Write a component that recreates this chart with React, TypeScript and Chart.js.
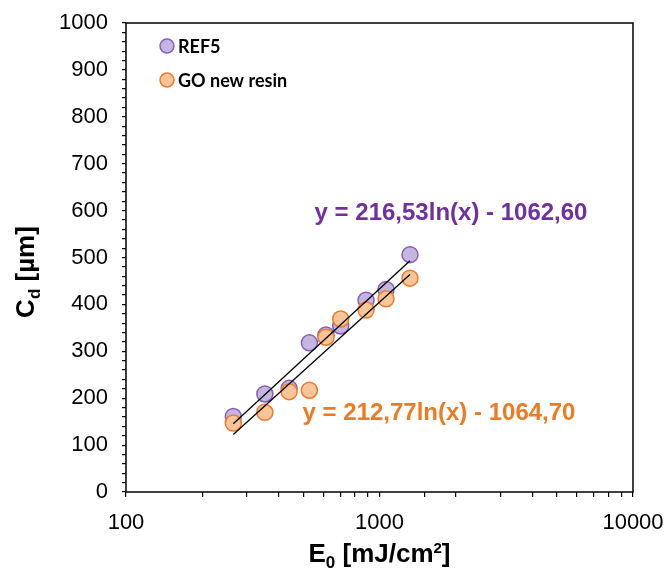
import React, { useEffect, useRef } from "react";
import { Chart, registerables } from "chart.js";

Chart.register(...registerables);

// Exposure dose E0 [mJ/cm²] for each sample
const exposures = [265, 353, 440, 529, 615, 703, 885, 1061, 1319];
// Cure depth Cd [µm]
const ref5Depths = [161, 209, 221, 318, 335, 354, 409, 432, 506];
const goDepths = [147, 170, 214, 217, 330, 369, 388, 412, 456];

// Logarithmic fits: y = slope * ln(x) + intercept
const ref5Slope = 216.53;
const ref5Intercept = -1062.6;
const goSlope = 212.77;
const goIntercept = -1064.7;

const seriesNames = ["REF5", "GO new resin"];
const yTicks = [0, 100, 200, 300, 400, 500, 600, 700, 800, 900, 1000];
const xTicks = [100, 1000, 10000];

const PURPLE_FILL = "#C4B6E0";
const PURPLE_EDGE = "#8660B6";
const PURPLE_TEXT = "#7030A0";
const ORANGE_FILL = "#F9C497";
const ORANGE_EDGE = "#EE7B2A";
const ORANGE_TEXT = "#EE7A22";

const fmt = (v: number) => Math.abs(v).toFixed(2).replace(".", ",");
const eqLabel = (a: number, b: number) =>
  `y = ${fmt(a)}ln(x) ${b < 0 ? "-" : "+"} ${fmt(b)}`;

const fitLine = (a: number, b: number) => {
  const x0 = exposures[0];
  const x1 = exposures[exposures.length - 1];
  return [
    { x: x0, y: a * Math.log(x0) + b },
    { x: x1, y: a * Math.log(x1) + b },
  ];
};

type Part = { text: string; font: string; dy: number };

function drawRich(ctx: CanvasRenderingContext2D, parts: Part[], cx: number, baseY: number) {
  let total = 0;
  for (const p of parts) {
    ctx.font = p.font;
    total += ctx.measureText(p.text).width;
  }
  let x = cx - total / 2;
  ctx.textAlign = "left";
  ctx.textBaseline = "alphabetic";
  for (const p of parts) {
    ctx.font = p.font;
    ctx.fillText(p.text, x, baseY + p.dy);
    x += ctx.measureText(p.text).width;
  }
}

const overlay = {
  id: "overlay",
  afterDatasetsDraw(chart: any) {
    const { ctx, chartArea: ca, scales } = chart;
    const xs = scales.x;
    const ys = scales.y;
    ctx.save();

    // plot frame
    ctx.strokeStyle = "#000";
    ctx.lineWidth = 1.5;
    ctx.strokeRect(ca.left, ca.top, ca.right - ca.left, ca.bottom - ca.top);

    // fit equations
    ctx.textAlign = "center";
    ctx.textBaseline = "middle";
    ctx.font = "bold 24px 'Liberation Sans', Arial, sans-serif";
    ctx.fillStyle = PURPLE_TEXT;
    ctx.fillText(eqLabel(ref5Slope, ref5Intercept), xs.getPixelForValue(1915), ys.getPixelForValue(595));
    ctx.fillStyle = ORANGE_TEXT;
    ctx.fillText(eqLabel(goSlope, goIntercept), xs.getPixelForValue(1717), ys.getPixelForValue(168));

    // legend
    const legend = [
      { name: seriesNames[0], fill: PURPLE_FILL, edge: PURPLE_EDGE },
      { name: seriesNames[1], fill: ORANGE_FILL, edge: ORANGE_EDGE },
    ];
    legend.forEach((item, i) => {
      const cx = ca.left + 41;
      const cy = ca.top + 23 + i * 34;
      ctx.beginPath();
      ctx.arc(cx, cy, 7, 0, Math.PI * 2);
      ctx.fillStyle = item.fill;
      ctx.fill();
      ctx.lineWidth = 1.5;
      ctx.strokeStyle = item.edge;
      ctx.stroke();
      ctx.fillStyle = "#000";
      ctx.font = "bold 18px Lato, 'Open Sans', sans-serif";
      ctx.textAlign = "left";
      ctx.textBaseline = "middle";
      ctx.fillText(item.name, cx + 11, cy + 1);
    });

    // axis titles
    ctx.fillStyle = "#000";
    const big = "bold 26px 'Liberation Sans', Arial, sans-serif";
    const small = "bold 17px 'Liberation Sans', Arial, sans-serif";
    const sup = "bold 15px 'Liberation Sans', Arial, sans-serif";
    drawRich(
      ctx,
      [
        { text: "E", font: big, dy: 0 },
        { text: "0", font: small, dy: 6 },
        { text: " [mJ/cm", font: big, dy: 0 },
        { text: "2", font: sup, dy: -9 },
        { text: "]", font: big, dy: 0 },
      ],
      (ca.left + ca.right) / 2,
      562
    );
    ctx.translate(34, 272);
    ctx.rotate(-Math.PI / 2);
    drawRich(
      ctx,
      [
        { text: "C", font: big, dy: 0 },
        { text: "d", font: small, dy: 6 },
        { text: " [µm]", font: big, dy: 0 },
      ],
      0,
      0
    );
    ctx.restore();
  },
};

export default function App() {
  const ref = useRef<HTMLCanvasElement | null>(null);

  useEffect(() => {
    if (!ref.current) return;
    const tickFont = { family: "'Liberation Sans', Arial, sans-serif", size: 22 };
    const chart = new Chart(ref.current, {
      type: "scatter",
      data: {
        datasets: [
          {
            label: "REF5 fit",
            data: fitLine(ref5Slope, ref5Intercept),
            showLine: true,
            borderColor: "#000",
            borderWidth: 1.3,
            pointRadius: 0,
            order: 0,
          },
          {
            label: "GO fit",
            data: fitLine(goSlope, goIntercept),
            showLine: true,
            borderColor: "#000",
            borderWidth: 1.3,
            pointRadius: 0,
            order: 0,
          },
          {
            label: seriesNames[1],
            data: exposures.map((x, i) => ({ x, y: goDepths[i] })),
            backgroundColor: ORANGE_FILL,
            borderColor: ORANGE_EDGE,
            borderWidth: 1.5,
            pointRadius: 8,
            order: 1,
          },
          {
            label: seriesNames[0],
            data: exposures.map((x, i) => ({ x, y: ref5Depths[i] })),
            backgroundColor: PURPLE_FILL,
            borderColor: PURPLE_EDGE,
            borderWidth: 1.5,
            pointRadius: 8,
            order: 2,
          },
        ],
      },
      options: {
        animation: false,
        responsive: true,
        maintainAspectRatio: false,
        layout: { padding: { top: 23, right: 34, left: 0, bottom: 0 } },
        plugins: { legend: { display: false }, tooltip: { enabled: false } },
        scales: {
          x: {
            type: "logarithmic",
            min: 100,
            max: 10000,
            border: { display: false },
            grid: { drawOnChartArea: false, drawTicks: true, tickLength: 5, color: "#000", lineWidth: 1.2 },
            ticks: {
              autoSkip: false,
              maxRotation: 0,
              padding: 13,
              color: "#000",
              font: tickFont,
              callback: (v: any) => (xTicks.includes(Number(v)) ? String(v) : ""),
            },
            afterFit: (s: any) => {
              s.height = 76;
              s.paddingLeft = 0;
              s.paddingRight = 0;
            },
          },
          y: {
            min: 0,
            max: 1000,
            border: { display: false },
            grid: { drawOnChartArea: false, drawTicks: true, tickLength: 4, color: "#000", lineWidth: 1.2 },
            ticks: {
              stepSize: 20,
              autoSkip: false,
              padding: 14,
              color: "#000",
              font: tickFont,
              callback: (v: any) => (yTicks.includes(Number(v)) ? String(v) : ""),
            },
            afterFit: (s: any) => {
              s.width = 126;
              s.paddingTop = 0;
              s.paddingBottom = 0;
            },
          },
        },
      },
      plugins: [overlay],
    });
    return () => chart.destroy();
  }, []);

  return (
    <div style={{ position: "fixed", left: 0, top: 0, width: 667, height: 568, background: "#fff" }}>
      <canvas ref={ref} />
    </div>
  );
}
